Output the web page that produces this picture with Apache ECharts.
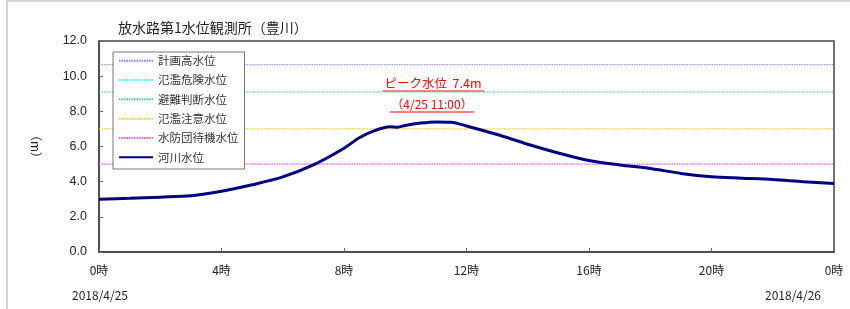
<!DOCTYPE html>
<html><head><meta charset="utf-8">
<script src="https://cdn.jsdelivr.net/npm/echarts@6/dist/echarts.min.js"></script>
<style>html,body{margin:0;padding:0;background:#fff}#c{width:850px;height:309px}</style>
</head><body><div id="c"></div>
<script>
const chartTitle = '放水路第1水位観測所（豊川）';
const hours  = [0,1,2,3,4,5,6,7,8,8.5,9,9.5,9.75,10,10.5,11,11.5,12,13,14,15,16,17,18,19,20,21,22,23,24];
const levels = [3.0,3.05,3.12,3.2,3.45,3.82,4.27,4.95,5.9,6.5,6.9,7.12,7.1,7.2,7.33,7.4,7.38,7.17,6.68,6.13,5.63,5.2,4.95,4.75,4.47,4.28,4.2,4.12,4.0,3.9];
const thresholdNames  = ['計画高水位','氾濫危険水位','避難判断水位','氾濫注意水位','水防団待機水位'];
const thresholdValues = [10.65, null, 9.1, 7.0, 5.0];
const thresholdColors = ['#8080ff','#33ffff','#44cc88','#ffcc33','#ff55ff'];
const riverName = '河川水位';
const dateLabels = ['2018/4/25','2018/4/26'];
const peakText = ['ピーク水位  7.4m','（4/25 11:00）'];

const font = '"Noto Sans CJK JP", sans-serif';
const chart = echarts.init(document.getElementById('c'));
const series = thresholdNames.map((n,i)=>({
  name:n, type:'line', symbol:'none', showSymbol:false, silent:true,
  data: thresholdValues[i]==null ? [] : [[0,thresholdValues[i]],[24,thresholdValues[i]]],
  lineStyle:{color:thresholdColors[i], width:1.2, type:[1.5,1], opacity:1},
  itemStyle:{color:thresholdColors[i]},
  emphasis:{disabled:true}
}));
series.push({
  name:riverName, type:'line', symbol:'none', showSymbol:false, smooth:0.3,
  data: hours.map((h,i)=>[h,levels[i]]),
  lineStyle:{color:'#000080', width:3}, itemStyle:{color:'#000080'}, z:5
});
chart.setOption({
  animation:false,
  textStyle:{fontFamily:font},
  title:{text:chartTitle, left:113, top:16, textStyle:{fontSize:14, fontWeight:'normal', color:'#222', fontFamily:font}},
  grid:{left:99, right:16, top:41, bottom:57, show:true, borderColor:'#444', borderWidth:1.5},
  legend:{
    orient:'vertical', left:113, top:52, padding:[3,6,6,5],
    backgroundColor:'#fff', borderColor:'#777', borderWidth:1,
    itemWidth:34, itemHeight:12, itemGap:7.8,
    itemStyle:{opacity:0},
    data:[...thresholdNames, riverName],
    textStyle:{fontSize:11.5, color:'#333', fontFamily:font}
  },
  xAxis:{
    type:'value', min:0, max:24, interval:4,
    axisLine:{lineStyle:{color:'#444', width:1.5}},
    axisTick:{inside:true, length:4, lineStyle:{color:'#666'}},
    splitLine:{show:false},
    axisLabel:{formatter:v=>(v%24)+'時', margin:12, fontSize:12, color:'#222', fontFamily:font}
  },
  yAxis:{
    type:'value', min:0, max:12, interval:2,
    name:'（m）', nameLocation:'middle', nameRotate:-90, nameGap:57,
    nameTextStyle:{fontSize:12, color:'#222', fontFamily:font},
    axisLine:{show:true, lineStyle:{color:'#444', width:1.5}},
    axisTick:{show:true, inside:true, length:4, lineStyle:{color:'#666'}},
    splitLine:{show:false},
    axisLabel:{formatter:v=>v.toFixed(1), margin:12, fontSize:12.5, color:'#222', fontFamily:'"Liberation Sans", Arial, sans-serif'}
  },
  series:series,
  graphic:[
    {type:'rect', shape:{x:7, y:1, width:900, height:400}, style:{fill:'none', stroke:'#c8c8c8', lineWidth:1.5}, silent:true, z:-10},
    {type:'text', left:72, top:289, style:{text:dateLabels[0], fontSize:12, fill:'#222', fontFamily:font}},
    {type:'text', left:765, top:289, style:{text:dateLabels[1], fontSize:12, fill:'#222', fontFamily:font}},
    {type:'text', x:433, y:83, style:{text:peakText[0], fontSize:12.5, fill:'#ff0000', align:'center', verticalAlign:'middle', fontFamily:font}},
    {type:'line', shape:{x1:383, y1:91, x2:484, y2:91}, style:{stroke:'#ff0000', lineWidth:1}},
    {type:'text', x:432, y:104, style:{text:peakText[1], fontSize:12, fill:'#ff0000', align:'center', verticalAlign:'middle', fontFamily:font}},
    {type:'line', shape:{x1:390, y1:112, x2:474, y2:112}, style:{stroke:'#ff0000', lineWidth:1}}
  ]
});
</script></body></html>
